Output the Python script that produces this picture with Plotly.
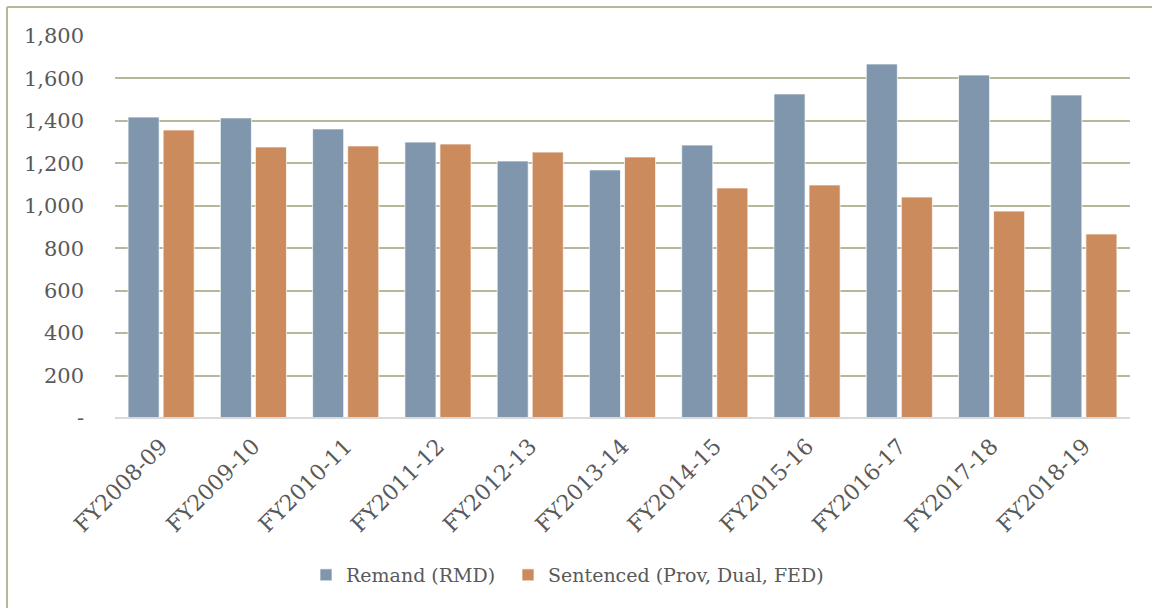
import plotly.graph_objects as go

categories = ["FY2008-09", "FY2009-10", "FY2010-11", "FY2011-12", "FY2012-13", "FY2013-14",
              "FY2014-15", "FY2015-16", "FY2016-17", "FY2017-18", "FY2018-19"]
remand = [1418, 1414, 1362, 1300, 1211, 1169, 1286, 1527, 1668, 1616, 1522]
sentenced = [1357, 1277, 1282, 1291, 1253, 1230, 1084, 1098, 1041, 975, 867]
y_tickvals = [0, 200, 400, 600, 800, 1000, 1200, 1400, 1600, 1800]
y_ticktext = ["-", "200", "400", "600", "800", "1,000", "1,200", "1,400", "1,600", "1,800"]

FONT = "DejaVu Serif"
TXT = "#595959"

fig = go.Figure()
fig.add_trace(go.Bar(x=categories, y=remand, name="Remand (RMD)", legend="legend",
                     marker=dict(color="#7f96ac", line=dict(color="rgba(255,255,255,0.7)", width=1))))
fig.add_trace(go.Bar(x=categories, y=sentenced, name="Sentenced (Prov, Dual, FED)", legend="legend2",
                     marker=dict(color="#cc8b5d", line=dict(color="rgba(255,255,255,0.7)", width=1))))

ml, mr, mt, mb = 115, 22, 36, 190
W, H = 1152, 608
pw, ph = W - ml - mr, H - mt - mb

def px_x(p):
    return (p - ml) / pw

def px_y(p):
    return (H - mb - p) / ph

leg_common = dict(orientation="h", xanchor="left", y=px_y(575), yanchor="middle",
                  font=dict(size=19, color=TXT, family=FONT), itemwidth=30,
                  bgcolor="rgba(0,0,0,0)")

fig.update_layout(
    width=W, height=H,
    margin=dict(l=ml, r=mr, t=mt, b=mb),
    paper_bgcolor="white", plot_bgcolor="white",
    barmode="group", bargap=0.24, bargroupgap=0.114,
    font=dict(family=FONT, color=TXT, size=20),
    showlegend=True,
    legend=dict(x=px_x(306), **leg_common),
    legend2=dict(x=px_x(508), **leg_common),
    xaxis=dict(tickangle=-45, showgrid=False, showline=False, ticks="",
               ticklabelstandoff=10,
               tickfont=dict(size=22, color=TXT)),
    yaxis=dict(range=[0, 1800], tickvals=y_tickvals, ticktext=y_ticktext,
               showgrid=True, gridcolor="#b5b99a", gridwidth=2,
               zeroline=False, showline=False, ticks="",
               ticklabelstandoff=30,
               tickfont=dict(size=21, color=TXT)),
    shapes=[
        dict(type="line", xref="paper", yref="paper", x0=0, x1=1, y0=0, y1=0,
             line=dict(color="#d9d9d9", width=2), layer="above"),
        dict(type="line", xref="paper", yref="paper", x0=px_x(7), x1=px_x(7), y0=px_y(7), y1=px_y(612),
             line=dict(color="#b5b99a", width=2)),
        dict(type="line", xref="paper", yref="paper", x0=px_x(7), x1=px_x(1156), y0=px_y(7), y1=px_y(7),
             line=dict(color="#b5b99a", width=2)),
    ],
)

fig.write_html("out.html", config={"displayModeBar": False},
               post_script="document.body.style.margin='0';document.body.style.overflow='hidden';")
